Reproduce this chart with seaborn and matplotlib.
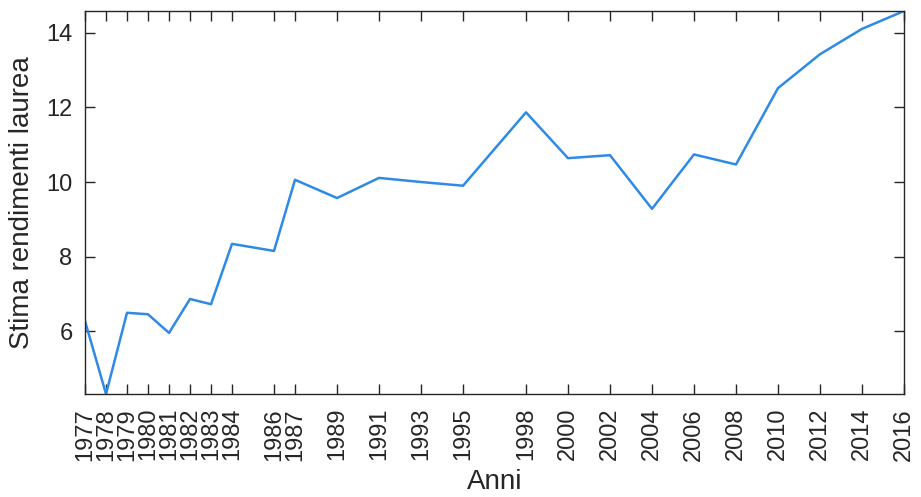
import matplotlib
matplotlib.use("Agg")
import matplotlib.pyplot as plt
import seaborn as sns
import pandas as pd

anni = [1977, 1978, 1979, 1980, 1981, 1982, 1983, 1984, 1986, 1987, 1989, 1991,
        1993, 1995, 1998, 2000, 2002, 2004, 2006, 2008, 2010, 2012, 2014, 2016]
rendimenti = [6.27, 4.31, 6.49, 6.45, 5.95, 6.86, 6.72, 8.34, 8.15, 10.06, 9.57, 10.11,
              10.00, 9.90, 11.87, 10.64, 10.72, 9.28, 10.74, 10.47, 12.52, 13.43, 14.11, 14.59]
y_ticks = [6, 8, 10, 12, 14]

df = pd.DataFrame({"Anni": anni, "Stima": rendimenti})

sns.set_theme(style="white")
plt.rcParams['font.family'] = ['Liberation Sans', 'DejaVu Sans']

fig = plt.figure(figsize=(9.21, 4.97), dpi=100)
ax = fig.add_axes([85/921, 1 - 394/497, (904-85)/921, (394-11)/497])

sns.lineplot(data=df, x="Anni", y="Stima", ax=ax, color="#2f8ae6", linewidth=1.8)

ax.set_xlim(min(anni), max(anni))
ax.set_ylim(min(rendimenti), max(rendimenti))
ax.set_xticks(anni)
ax.set_xticklabels([str(a) for a in anni], rotation=90, fontsize=17, color="#262626")
ax.set_yticks(y_ticks)
ax.set_yticklabels([str(v) for v in y_ticks], fontsize=17, color="#262626")
ax.set_xlabel("Anni", fontsize=20, color="#262626", labelpad=6)
ax.set_ylabel("Stima rendimenti laurea", fontsize=20, color="#262626", labelpad=8)

ax.tick_params(direction="in", length=7, width=1, color="#262626",
               top=True, right=True, bottom=True, left=True)
ax.tick_params(axis="x", pad=10)
ax.tick_params(axis="y", pad=9)
for s in ax.spines.values():
    s.set_visible(True)
    s.set_color("#262626")
    s.set_linewidth(1)

fig.savefig("out.png", dpi=100, facecolor="white")
